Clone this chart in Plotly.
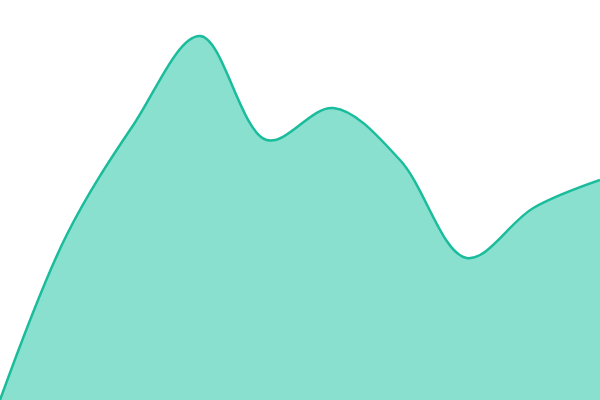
import plotly.graph_objects as go

# data
x_vals = [0, 1, 2, 3, 4, 5, 6, 7, 8, 9]
y_vals = [0, 165, 275, 364, 260, 292, 240, 142, 192, 220]

fig = go.Figure()
fig.add_trace(go.Scatter(
    x=x_vals, y=y_vals,
    mode="lines",
    line=dict(color="#1abc9c", width=2.5, shape="spline", smoothing=1),
    fill="tozeroy",
    fillcolor="#89e0cf",
    hoverinfo="skip",
))
fig.update_layout(
    width=600, height=400,
    margin=dict(l=0, r=0, t=0, b=0),
    paper_bgcolor="white", plot_bgcolor="white",
    showlegend=False,
    xaxis=dict(visible=False, range=[0, 9]),
    yaxis=dict(visible=False, range=[0, 400]),
)
# drop the default page margin so the chart sits flush in the window
fig.write_html("out.html", config={"displayModeBar": False},
               post_script="document.body.style.margin='0';document.body.style.overflow='hidden';")
